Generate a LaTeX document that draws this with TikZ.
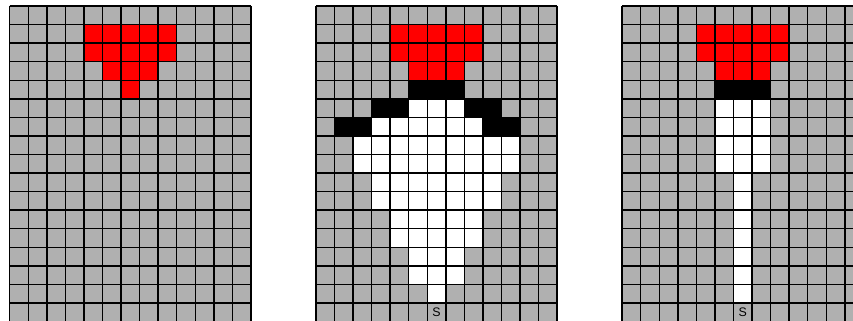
\documentclass[tikz,border=0pt]{standalone}
\usepackage{fontspec}
\setsansfont{Liberation Sans}
\usetikzlibrary{positioning}
\definecolor{celGray}{HTML}{B0B0B0}
\definecolor{celRed}{HTML}{FF0000}

\begin{document}
\begin{tikzpicture}[
  x=0.5cm, y=-0.5cm,
  rejilla/.style={draw=black, line width=1.1pt},
  rojo/.style={fill=celRed},
  negro/.style={fill=black},
  blanco/.style={fill=white},
  marca/.style={font=\sffamily\fontsize{9.5}{10}\selectfont, inner sep=0pt}
]
\useasboundingbox (-0.523,-0.323) rectangle (45.44,16.92);

% three boards, 13 x 17 cells each
\foreach \dx in {0,16.5,33} {
  \begin{scope}[shift={(\dx,0)}]
    \fill[celGray] (0,0) rectangle (13,17);
    % red block on top
    \foreach \c/\r/\w in {4/1/5, 4/2/5, 5/3/3}
      \fill[rojo] (\c,\r) rectangle ++(\w,1);
  \end{scope}
}

% board 1
\fill[rojo] (6,4) rectangle ++(1,1);

% board 2
\begin{scope}[shift={(16.5,0)}]
  \foreach \c/\r/\w in {5/4/3, 3/5/2, 8/5/2, 1/6/2, 9/6/2}
    \fill[negro] (\c,\r) rectangle ++(\w,1);
  \foreach \c/\r/\w in {5/5/3, 3/6/6, 2/7/9, 2/8/9, 3/9/7, 3/10/7,
                        4/11/5, 4/12/5, 5/13/3, 5/14/3, 6/15/1}
    \fill[blanco] (\c,\r) rectangle ++(\w,1);
\end{scope}

% board 3
\begin{scope}[shift={(33,0)}]
  \fill[negro] (5,4) rectangle ++(3,1);
  \foreach \r in {5,...,8}
    \fill[blanco] (5,\r) rectangle ++(3,1);
  \foreach \r in {9,...,15}
    \fill[blanco] (6,\r) rectangle ++(1,1);
\end{scope}

% grid lines
\foreach \dx in {0,16.5,33} {
  \begin{scope}[shift={(\dx,0)}]
    \foreach \i in {0,...,13}
      \draw[rejilla] (\i,0) -- (\i,17);
    \foreach \j in {0,...,17}
      \draw[rejilla] (0,\j) -- (13,\j);
  \end{scope}
}

\node[marca] (s2) at (23,16.5) {S};
\node[marca] (s3) at (39.5,16.5) {S};

\end{tikzpicture}
\end{document}
